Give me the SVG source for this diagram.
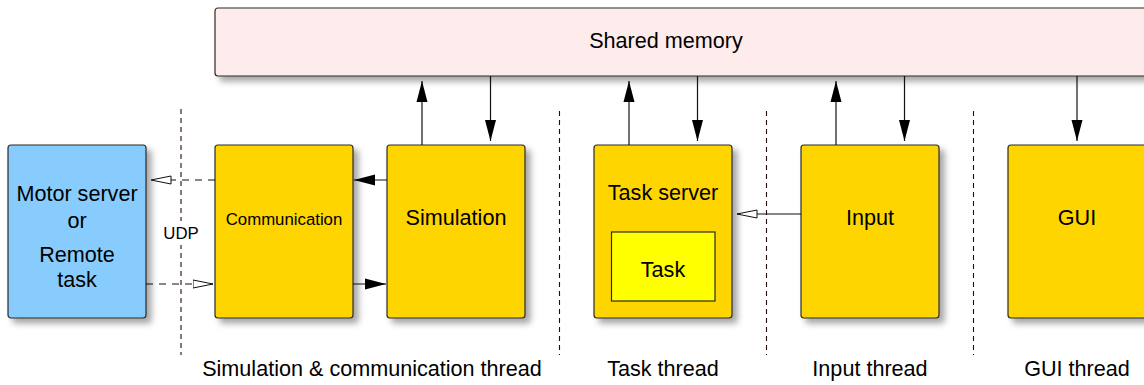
<svg xmlns="http://www.w3.org/2000/svg" width="1144" height="385" viewBox="0 0 1144 385">
<style>
  text { font-family: "Liberation Sans", Arial, sans-serif; font-size: 21.6px; fill: #000; text-anchor: middle; }
  .small { font-size: 16.8px; }
  .box { stroke: #2b2b2b; stroke-width: 1.2; filter: url(#shadow); }
  .gold { fill: #FFD500; }
  .conn { stroke: #111; stroke-width: 1.2; fill: none; }
  .dash { stroke-dasharray: 7 6; }
  .div { stroke: #2a0808; stroke-width: 1.1; stroke-dasharray: 5 4; fill: none; }
</style>
<defs>
  <filter id="shadow" x="-10%" y="-10%" width="130%" height="130%">
    <feDropShadow dx="5" dy="5" stdDeviation="3" flood-color="#000" flood-opacity="0.35"/>
  </filter>
  <marker id="filled" markerUnits="userSpaceOnUse" markerWidth="22" markerHeight="12" refX="21" refY="6" orient="auto">
    <path d="M0,0.5 L21,6 L0,11.5 z" fill="#000"/>
  </marker>
  <marker id="open" markerUnits="userSpaceOnUse" markerWidth="22" markerHeight="10" refX="20.5" refY="5" orient="auto">
    <path d="M0.5,1 L20.5,5 L0.5,9 z" fill="#fff" stroke="#111" stroke-width="1"/>
  </marker>
</defs>

<g id="dividers">
  <line class="div" x1="181" y1="109" x2="181" y2="355"/>
  <line class="div" x1="559.5" y1="111" x2="559.5" y2="355"/>
  <line class="div" x1="766.5" y1="111" x2="766.5" y2="355"/>
  <line class="div" x1="973.5" y1="111" x2="973.5" y2="355"/>
</g>

<g id="shared-memory">
  <rect class="box" x="215" y="8" width="940" height="68" rx="3" fill="#FEECEC"/>
  <text x="666" y="48">Shared memory</text>
</g>

<g id="motor-server">
  <rect class="box" x="8" y="145" width="138" height="173" rx="3" fill="#87CCFC"/>
  <text x="77" y="201">Motor server</text>
  <text x="77" y="228">or</text>
  <text x="77" y="262">Remote</text>
  <text x="77" y="287">task</text>
</g>

<g id="communication">
  <rect class="box gold" x="215" y="145" width="138" height="173" rx="3"/>
  <text class="small" x="284" y="225">Communication</text>
</g>

<g id="simulation">
  <rect class="box gold" x="387" y="145" width="138" height="173" rx="3"/>
  <text x="456" y="225">Simulation</text>
</g>

<g id="task-server">
  <rect class="box gold" x="594" y="145" width="138" height="173" rx="3"/>
  <text x="663" y="200">Task server</text>
  <g id="task">
    <rect x="611.5" y="232" width="103.5" height="69" fill="#FFFF00" stroke="#2b2b2b" stroke-width="1.2"/>
    <text x="663" y="277">Task</text>
  </g>
</g>

<g id="input">
  <rect class="box gold" x="801" y="145" width="138" height="173" rx="3"/>
  <text x="870" y="225">Input</text>
</g>

<g id="gui">
  <rect class="box gold" x="1008" y="145" width="160" height="173" rx="3"/>
  <text x="1077" y="225">GUI</text>
</g>

<g id="udp-label">
  <rect x="160" y="221" width="42" height="24" fill="#fff"/>
  <text class="small" x="181" y="239">UDP</text>
</g>

<g id="connectors">
  <line class="conn" x1="422" y1="145" x2="422" y2="81" marker-end="url(#filled)"/>
  <line class="conn" x1="490.5" y1="76" x2="490.5" y2="141" marker-end="url(#filled)"/>
  <line class="conn" x1="629" y1="145" x2="629" y2="81" marker-end="url(#filled)"/>
  <line class="conn" x1="697.5" y1="76" x2="697.5" y2="141" marker-end="url(#filled)"/>
  <line class="conn" x1="836" y1="145" x2="836" y2="81" marker-end="url(#filled)"/>
  <line class="conn" x1="904.5" y1="76" x2="904.5" y2="141" marker-end="url(#filled)"/>
  <line class="conn" x1="1077" y1="76" x2="1077" y2="141" marker-end="url(#filled)"/>
  <line class="conn" x1="387" y1="180" x2="354" y2="180" marker-end="url(#filled)"/>
  <line class="conn" x1="353" y1="284" x2="386" y2="284" marker-end="url(#filled)"/>
  <line class="conn dash" x1="215" y1="180" x2="151" y2="180" marker-end="url(#open)"/>
  <line class="conn dash" x1="146" y1="284" x2="213" y2="284" marker-end="url(#open)"/>
  <line class="conn" x1="801" y1="214" x2="737" y2="214" marker-end="url(#open)"/>
</g>

<g id="thread-labels">
  <text x="372" y="376">Simulation &amp; communication thread</text>
  <text x="663" y="376">Task thread</text>
  <text x="870" y="376">Input thread</text>
  <text x="1077" y="376">GUI thread</text>
</g>
</svg>
